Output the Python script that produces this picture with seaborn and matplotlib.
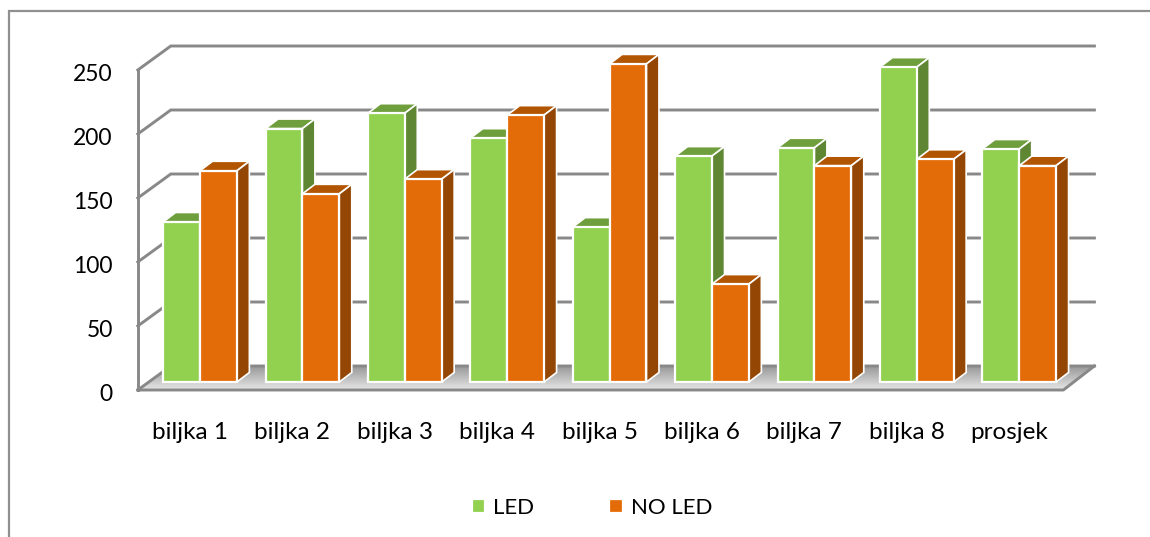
import numpy as np
import pandas as pd
import seaborn as sns
import matplotlib.pyplot as plt
from matplotlib.lines import Line2D
from matplotlib.patches import Polygon
from matplotlib.transforms import ScaledTranslation

# values
biljke = ['biljka 1', 'biljka 2', 'biljka 3', 'biljka 4', 'biljka 5', 'biljka 6', 'biljka 7', 'biljka 8', 'prosjek']
led = [125, 198, 210, 190.5, 121, 176.5, 183, 246, 182]
no_led = [165, 147, 158.5, 208.5, 248.5, 76.5, 169, 174, 169]
y_ticks = [0, 50, 100, 150, 200, 250]

GRID = '#888888'
colors = {'LED': ('#92D050', '#6F9E3C', '#5F8733'), 'NO LED': ('#E36C09', '#B25500', '#944705')}

# px per data unit, used for the fake 3d depth
PX_X = 102.4
PX_Y = 1.28

def ox(px):
    return px / PX_X

def oy(px):
    return px / PX_Y

df = pd.DataFrame({
    'biljka': biljke * 2,
    'visina': led + no_led,
    'grupa': ['LED'] * len(led) + ['NO LED'] * len(no_led),
})

plt.rcParams['font.family'] = ['Lato', 'DejaVu Sans']
fig = plt.figure(figsize=(11.5, 5.37), dpi=100)
ax = fig.add_axes([148.8 / 1150, (537 - 382) / 537, 921.6 / 1150, 320 / 537])

sns.barplot(data=df, x='biljka', y='visina', hue='grupa', order=biljke,
            palette={k: v[0] for k, v in colors.items()}, width=0.72, gap=0,
            saturation=1, edgecolor='white', linewidth=1.6, ax=ax)

# wall and floor corners, relative to the plane of the bars
xl_f, xr_f = -0.5 + ox(-11), 8.5 + ox(-7)
xl_b, xr_b = -0.5 + ox(22), 8.5 + ox(24)
front = oy(-8)
back = oy(16)

# floor with gradient
floor = Polygon([(xl_f, front), (xr_f, front), (xr_b, back), (xl_b, back)], closed=True,
                transform=ax.transData, facecolor='none', edgecolor='none')
ax.add_patch(floor)
grad = np.linspace(0.6, 0.9, 32).reshape(-1, 1)
im = ax.imshow(grad, extent=[xl_f, xr_b, front, back], origin='upper', aspect='auto',
               cmap='gray', vmin=0, vmax=1, zorder=0.2)
im.set_clip_box(fig.bbox)
im.set_clip_path(floor)

# gridlines on the wall
for v in y_ticks:
    ax.plot([xl_f, xl_b, xr_b], [v + front, v + back, v + back], color=GRID, lw=2.1,
            clip_on=False, zorder=0.5, solid_joinstyle='miter')
ax.plot([xl_f, xl_f], [front, 250 + front], color=GRID, lw=2.1, clip_on=False, zorder=0.5)
ax.plot([xl_f, xr_f, xr_b], [front, front, back], color=GRID, lw=2.1, clip_on=False, zorder=0.5)

# side and top of every bar, left to right so the nearer one paints over
z = 2
depth_x, depth_y = ox(12.5), oy(9.5)
n = len(biljke)
for i in range(n):
    for container, name in zip(ax.containers, ['LED', 'NO LED']):
        bar = container[i]
        x0 = bar.get_x()
        x1 = x0 + bar.get_width()
        h = bar.get_height()
        top = Polygon([(x0, h), (x1, h), (x1 + depth_x, h + depth_y), (x0 + depth_x, h + depth_y)],
                      facecolor=colors[name][1], edgecolor='white', lw=1.2, clip_on=False, zorder=z)
        side = Polygon([(x1, 0), (x1 + depth_x, depth_y), (x1 + depth_x, h + depth_y), (x1, h)],
                       facecolor=colors[name][2], edgecolor='white', lw=1.2, clip_on=False, zorder=z)
        ax.add_patch(top)
        ax.add_patch(side)
        bar.set_zorder(z + 0.5)
        bar.set_clip_on(False)
        z += 1

ax.set_xlim(-0.5, 8.5)
ax.set_ylim(0, 250)
ax.set_yticks(y_ticks)
ax.set_xlabel('')
ax.set_ylabel('')
ax.tick_params(length=0, colors='black')
ax.tick_params(axis='y', pad=26, labelsize=16.5)
ax.tick_params(axis='x', pad=29, labelsize=17.5)
for s in ax.spines.values():
    s.set_visible(False)
ax.patch.set_visible(False)

# labels belong to the front plane, not the bar plane
off_x = ScaledTranslation(-10 / 100, 0, fig.dpi_scale_trans)
for lab in ax.get_xticklabels():
    lab.set_transform(lab.get_transform() + off_x)
off_y = ScaledTranslation(0, -10.5 / 100, fig.dpi_scale_trans)
for lab in ax.get_yticklabels():
    lab.set_transform(lab.get_transform() + off_y)

ax.legend(loc='center', bbox_to_anchor=(592 / 1150, 1 - 508 / 537), bbox_transform=fig.transFigure,
          ncol=2, frameon=False, fontsize=16, handlelength=0.62, handleheight=0.62,
          handletextpad=0.36, columnspacing=3.35, borderpad=0, borderaxespad=0)

# outer frame of the chart, only left and top are inside the crop
fig.add_artist(Line2D([9 / 1150, 9 / 1150, 1], [0, 1 - 11 / 537, 1 - 11 / 537], color='#909090', lw=1.6,
                      solid_joinstyle='miter'))

fig.savefig('out.png', dpi=100)
